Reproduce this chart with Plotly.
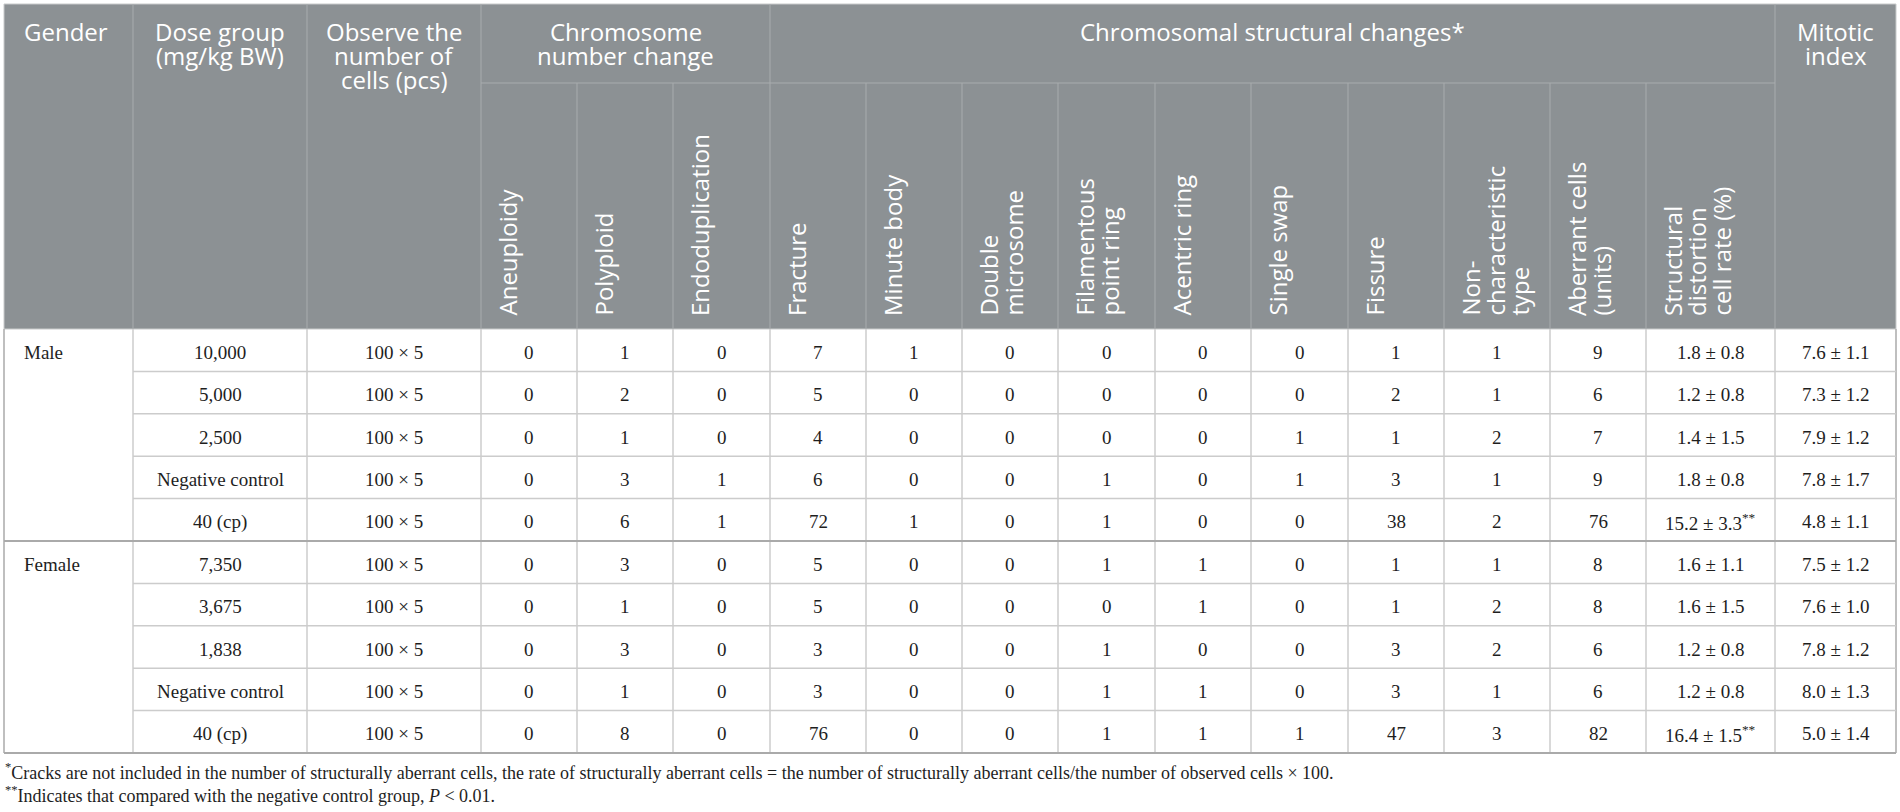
import plotly.graph_objects as go

# ---- table data ----
genders = ["Male", "Female"]
dose_groups = ["10,000", "5,000", "2,500", "Negative control", "40 (cp)",
               "7,350", "3,675", "1,838", "Negative control", "40 (cp)"]
observed_cells = ["100 × 5", "100 × 5", "100 × 5", "100 × 5", "100 × 5",
                  "100 × 5", "100 × 5", "100 × 5", "100 × 5", "100 × 5"]
aneuploidy = [0, 0, 0, 0, 0, 0, 0, 0, 0, 0]
polyploid = [1, 2, 1, 3, 6, 3, 1, 3, 1, 8]
endoduplication = [0, 0, 0, 1, 1, 0, 0, 0, 0, 0]
fracture = [7, 5, 4, 6, 72, 5, 5, 3, 3, 76]
minute_body = [1, 0, 0, 0, 1, 0, 0, 0, 0, 0]
double_microsome = [0, 0, 0, 0, 0, 0, 0, 0, 0, 0]
filamentous_ring = [0, 0, 0, 1, 1, 1, 0, 1, 1, 1]
acentric_ring = [0, 0, 0, 0, 0, 1, 1, 0, 1, 1]
single_swap = [0, 0, 1, 1, 0, 0, 0, 0, 0, 1]
fissure = [1, 2, 1, 3, 38, 1, 1, 3, 3, 47]
non_characteristic = [1, 1, 2, 1, 2, 1, 2, 2, 1, 3]
aberrant_cells = [9, 6, 7, 9, 76, 8, 8, 6, 6, 82]
structural_rate = ["1.8 ± 0.8", "1.2 ± 0.8", "1.4 ± 1.5", "1.8 ± 0.8", "15.2 ± 3.3<sup>**</sup>",
                   "1.6 ± 1.1", "1.6 ± 1.5", "1.2 ± 0.8", "1.2 ± 0.8", "16.4 ± 1.5<sup>**</sup>"]
mitotic_index = ["7.6 ± 1.1", "7.3 ± 1.2", "7.9 ± 1.2", "7.8 ± 1.7", "4.8 ± 1.1",
                 "7.5 ± 1.2", "7.6 ± 1.0", "7.8 ± 1.2", "8.0 ± 1.3", "5.0 ± 1.4"]

top_headers = [["Gender"], ["Dose group", "(mg/kg BW)"], ["Observe the", "number of", "cells (pcs)"],
               ["Chromosome", "number change"], ["Chromosomal structural changes*"], ["Mitotic", "index"]]
sub_headers = [["Aneuploidy"], ["Polyploid"], ["Endoduplication"], ["Fracture"], ["Minute body"],
               ["Double", "microsome"], ["Filamentous", "point ring"], ["Acentric ring"], ["Single swap"],
               ["Fissure"], ["Non-", "characteristic", "type"], ["Aberrant cells", "(units)"],
               ["Structural", "distortion", "cell rate (%)"]]
footnotes = ["<sup>*</sup>Cracks are not included in the number of structurally aberrant cells, the rate of "
             "structurally aberrant cells = the number of structurally aberrant cells/the number of observed cells × 100.",
             "<sup>**</sup>Indicates that compared with the negative control group, <i>P</i> < 0.01."]

# ---- layout of the table ----
W, H = 1900, 812
col_widths = [129, 174, 174, 96, 96, 97, 96, 96, 96, 97, 96, 97, 96, 106, 96, 129, 121]
edges = [4]
for w in col_widths:
    edges.append(edges[-1] + w)
top, mid, head_bot = 4, 83, 329
row_h = 42.4
n_rows = len(dose_groups)
bottom = head_bot + n_rows * row_h

header_bg = "rgb(140,145,148)"
header_line = "rgb(168,172,174)"
body_line = "rgb(204,204,204)"
group_line = "rgb(170,170,170)"
head_font = dict(family="Open Sans", size=24, color="white")
body_font = dict(family="Liberation Serif", size=19, color="rgb(30,30,30)")
foot_font = dict(family="Liberation Serif", size=18, color="rgb(30,30,30)")

fig = go.Figure()
shapes = []
annotations = []

def line(x0, y0, x1, y1, color, width):
    shapes.append(dict(type="line", xref="x", yref="y", x0=x0, y0=y0, x1=x1, y1=y1,
                       line=dict(color=color, width=width)))

def text(x, y, s, font, xanchor="center", yanchor="middle", angle=0):
    annotations.append(dict(x=x, y=y, xref="x", yref="y", text=s, showarrow=False, font=font,
                            xanchor=xanchor, yanchor=yanchor, textangle=angle))

# header background
shapes.append(dict(type="rect", xref="x", yref="y", x0=edges[0], x1=edges[-1], y0=top, y1=head_bot,
                   fillcolor=header_bg, line=dict(color="rgb(200,202,203)", width=1), layer="below"))

# header grid
for i in [1, 2, 3, 6, 16]:
    line(edges[i], top, edges[i], head_bot, header_line, 1)
for i in list(range(4, 6)) + list(range(7, 16)):
    line(edges[i], mid, edges[i], head_bot, header_line, 1)
line(edges[3], mid, edges[16], mid, header_line, 1)

# header texts (horizontal)
spans = [(0, 1), (1, 2), (2, 3), (3, 6), (6, 16), (16, 17)]
line_gap = 24
for k, (a, b) in enumerate(spans):
    for j, s in enumerate(top_headers[k]):
        y = 31 + j * line_gap
        if k == 0:
            text(edges[a] + 18, y, s, head_font, xanchor="left")
        else:
            text((edges[a] + edges[b]) / 2, y, s, head_font)

# header texts (rotated)
for k, lines in enumerate(sub_headers):
    c = 3 + k
    for j, s in enumerate(lines):
        text(edges[c] + 26 + j * 24.5, 318, s, head_font, yanchor="bottom", angle=-90)

# body grid
for i in range(len(edges)):
    line(edges[i], head_bot, edges[i], bottom, body_line if 0 < i < len(edges) - 1 else group_line, 1.5)
for r in range(1, n_rows):
    y = head_bot + r * row_h
    if r == 5:
        line(edges[0], y, edges[-1], y, group_line, 2)
    else:
        line(edges[1], y, edges[-1], y, body_line, 1.5)
line(edges[0], bottom, edges[-1], bottom, group_line, 2)

# body texts
columns = [dose_groups, observed_cells, aneuploidy, polyploid, endoduplication, fracture, minute_body,
           double_microsome, filamentous_ring, acentric_ring, single_swap, fissure, non_characteristic,
           aberrant_cells, structural_rate, mitotic_index]
for g, name in enumerate(genders):
    text(edges[0] + 18, head_bot + (g * 5 + 0.5) * row_h + 2, name, body_font, xanchor="left")
for c, values in enumerate(columns):
    for r, v in enumerate(values):
        text((edges[c + 1] + edges[c + 2]) / 2, head_bot + (r + 0.5) * row_h + 2, str(v), body_font)

# footnotes
for j, s in enumerate(footnotes):
    text(edges[0] - 1, bottom + 18 + j * 23, s, foot_font, xanchor="left")

fig.update_layout(
    width=W, height=H,
    margin=dict(l=0, r=0, t=0, b=0),
    paper_bgcolor="white", plot_bgcolor="white",
    xaxis=dict(range=[0, W], visible=False, fixedrange=True),
    yaxis=dict(range=[H, 0], visible=False, fixedrange=True),
    shapes=shapes, annotations=annotations,
    showlegend=False,
)
# the page body has a default 8px margin, drop it so the figure sits at 0,0
fig.write_html("out.html", config={"displayModeBar": False},
               post_script="document.body.style.margin='0';")
